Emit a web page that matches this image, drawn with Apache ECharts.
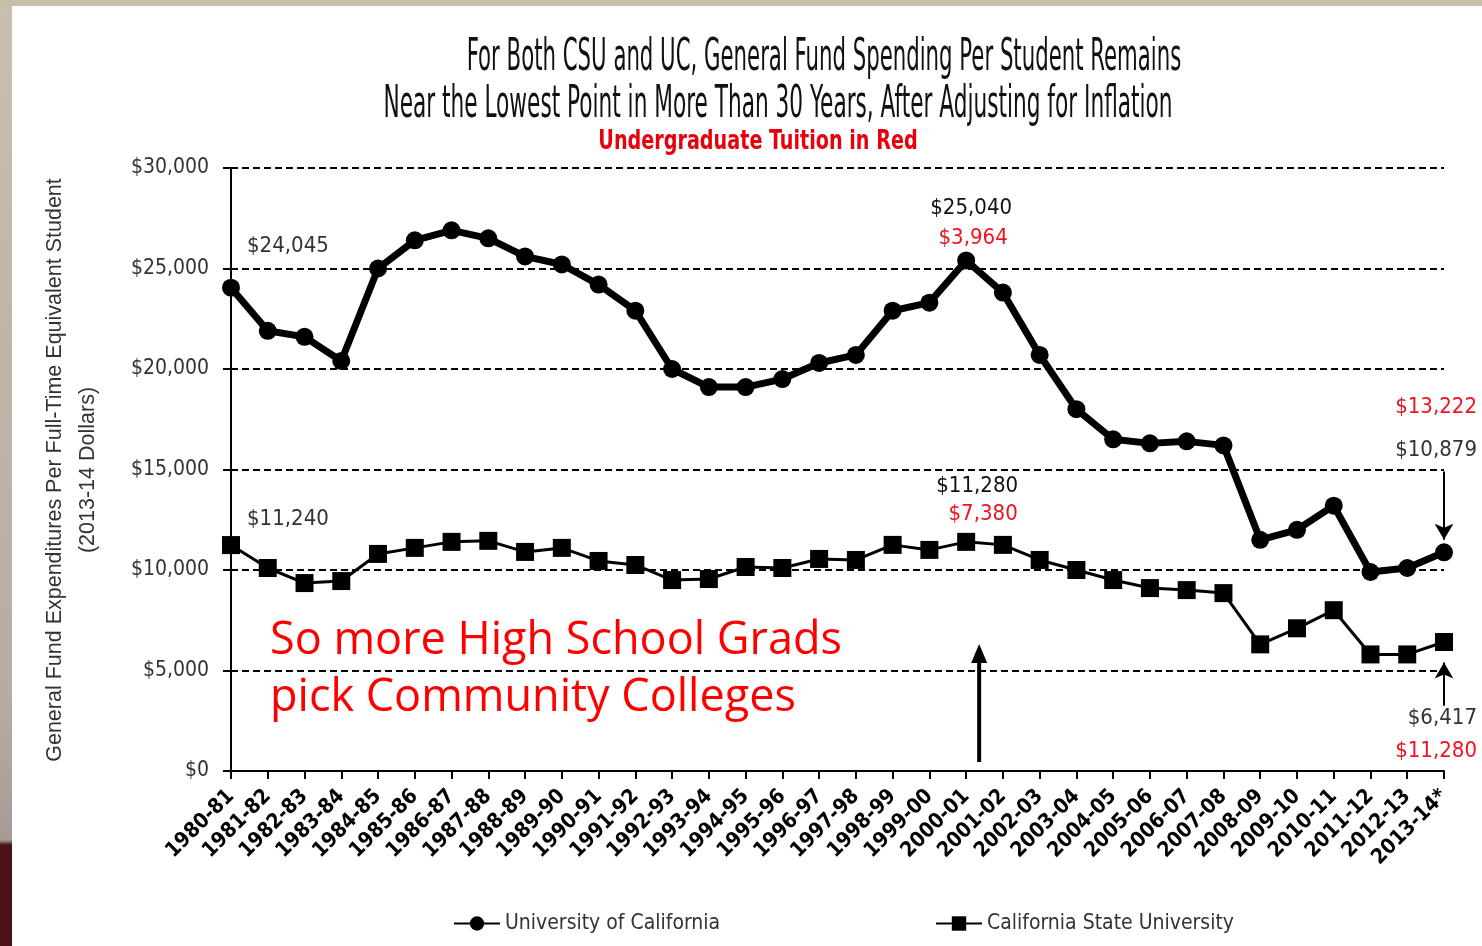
<!DOCTYPE html>
<html>
<head>
<meta charset="utf-8">
<script src="https://cdn.jsdelivr.net/npm/echarts@6/dist/echarts.min.js"></script>
<style>
  html, body { margin: 0; padding: 0; }
  body {
    width: 1482px; height: 946px; overflow: hidden;
    background: linear-gradient(to bottom, #c8bfb0 0px, #b7aca0 700px, #a89a96 840px, #4a1119 845px, #4a1119 946px);
  }
  #chart {
    position: absolute; left: 12px; top: 6px; width: 1470px; height: 940px;
    background: #ffffff;
  }
  #topstrip { position: absolute; left: 0; top: 0; width: 1482px; height: 6px; background: #c9bea9; }
</style>
</head>
<body>
<div id="topstrip"></div>
<div id="chart"></div>
<script>
const years = ["1980-81", "1981-82", "1982-83", "1983-84", "1984-85", "1985-86", "1986-87", "1987-88",
  "1988-89", "1989-90", "1990-91", "1991-92", "1992-93", "1993-94", "1994-95", "1995-96", "1996-97",
  "1997-98", "1998-99", "1999-00", "2000-01", "2001-02", "2002-03", "2003-04", "2004-05", "2005-06",
  "2006-07", "2007-08", "2008-09", "2009-10", "2010-11", "2011-12", "2012-13", "2013-14*"];

const ucSpending = [24045, 21900, 21600, 20400, 25000, 26400, 26900, 26500, 25600, 25200, 24200, 22900,
  20000, 19100, 19100, 19500, 20300, 20700, 22900, 23300, 25400, 23800, 20700, 18000, 16500, 16300,
  16400, 16200, 11500, 12000, 13200, 9900, 10100, 10879];

const csuSpending = [11240, 10100, 9350, 9450, 10800, 11100, 11400, 11450, 10900, 11100, 10450, 10250,
  9500, 9550, 10150, 10100, 10550, 10500, 11250, 11000, 11400, 11250, 10500, 10000, 9500, 9100,
  9000, 8850, 6300, 7100, 8000, 5800, 5800, 6417];

const yTicks = [0, 5000, 10000, 15000, 20000, 25000, 30000];

// callouts: [category, black text, red text]
const ucStartNote = ["1980-81", "$24,045"];
const csuStartNote = ["1980-81", "$11,240"];
const ucPeakNote = ["2000-01", "$25,040", "$3,964"];
const csuPeakNote = ["2000-01", "$11,280", "$7,380"];
const ucEndNote = ["2013-14*", "$10,879", "$13,222"];
const csuEndNote = ["2013-14*", "$6,417", "$11,280"];

const NARROW = '"Liberation Sans Narrow", "DejaVu Sans Condensed", sans-serif';
const ARIAL = '"Liberation Sans", Arial, sans-serif';

const chart = echarts.init(document.getElementById("chart"));

const money = (v) => "$" + v.toLocaleString("en-US");

chart.setOption({
  animation: false,
  grid: { left: 219, right: 38, top: 162, bottom: 175 },
  legend: [
    {
      data: ["University of California"],
      left: 436, top: 902,
      itemWidth: 46, itemHeight: 18,
      textStyle: { fontFamily: NARROW, fontSize: 21, color: "#333" }
    },
    {
      data: ["California State University"],
      left: 918, top: 902,
      itemWidth: 46, itemHeight: 18,
      textStyle: { fontFamily: NARROW, fontSize: 21, color: "#333" }
    }
  ],
  xAxis: {
    type: "category",
    data: years,
    boundaryGap: false,
    axisLine: { lineStyle: { color: "#000", width: 2 } },
    axisTick: { alignWithLabel: true, length: 8, lineStyle: { color: "#000", width: 2 }, interval: 0 },
    axisLabel: {
      interval: 0, rotate: 45, margin: 22,
      fontFamily: NARROW, fontWeight: "bold", fontSize: 21, color: "#000"
    }
  },
  yAxis: {
    type: "value",
    min: yTicks[0], max: yTicks[yTicks.length - 1], interval: yTicks[1] - yTicks[0],
    axisLine: { show: true, lineStyle: { color: "#000", width: 2 } },
    axisTick: { show: true, length: 8, lineStyle: { color: "#000", width: 2 } },
    axisLabel: {
      margin: 22,
      fontFamily: NARROW, fontSize: 21, color: "#333",
      formatter: (v) => money(v)
    },
    splitLine: { lineStyle: { color: "#000", width: 2.2, type: [7, 4] } }
  },
  series: [
    {
      name: "University of California",
      type: "line",
      data: ucSpending,
      symbol: "circle", symbolSize: 18,
      lineStyle: { color: "#000", width: 7 },
      itemStyle: { color: "#000" },
      markLine: {
        silent: true, symbol: ["none", "arrow"], symbolSize: [14, 16],
        lineStyle: { color: "#000", width: 2, type: "solid" },
        label: { show: false },
        data: [[{ coord: ["2013-14*", 14900] }, { coord: ["2013-14*", 11500] }]]
      },
      z: 3
    },
    {
      name: "California State University",
      type: "line",
      data: csuSpending,
      symbol: "rect", symbolSize: 18,
      lineStyle: { color: "#000", width: 3 },
      itemStyle: { color: "#000" },
      markLine: {
        silent: true, symbol: ["none", "arrow"], symbolSize: [14, 16],
        lineStyle: { color: "#000", width: 2, type: "solid" },
        label: { show: false },
        data: [[{ coord: ["2013-14*", 3250] }, { coord: ["2013-14*", 5400] }]]
      },
      z: 3
    }
  ]
});

// titles and notes placed from the axes' own scale
const px = (cat, v) => chart.convertToPixel({ xAxisIndex: 0, yAxisIndex: 0 }, [cat, v]);
const txt = (x, y, text, color, size, opts) => Object.assign({
  type: "text", x: x, y: y, silent: true,
  style: Object.assign({
    text: text, fill: color, fontFamily: NARROW, fontSize: size,
    align: "center", verticalAlign: "middle"
  }, (opts && opts.style) || {})
}, (opts && opts.el) || {});

const g = [];
g.push(txt(812, 52, "For Both CSU and UC, General Fund Spending Per Student Remains", "#111", 45,
  { el: { scaleX: 0.525 } }));
g.push(txt(766, 99, "Near the Lowest Point in More Than 30 Years, After Adjusting for Inflation", "#111", 45,
  { el: { scaleX: 0.535 } }));
g.push(txt(746, 136, "Undergraduate Tuition in Red", "#e8000d", 26,
  { style: { fontWeight: "bold" }, el: { scaleX: 0.82 } }));

// y axis name
g.push(txt(43, 464, "General Fund Expenditures Per Full-Time Equivalent Student", "#333", 21.5,
  { style: { fontFamily: ARIAL }, el: { rotation: Math.PI / 2 } }));
g.push(txt(76, 464, "(2013-14 Dollars)", "#333", 21.5,
  { style: { fontFamily: ARIAL }, el: { rotation: Math.PI / 2 } }));

let p = px(ucStartNote[0], ucSpending[0]);
g.push(txt(p[0] + 16, p[1] - 41, ucStartNote[1], "#333", 22, { style: { align: "left" } }));
p = px(csuStartNote[0], csuSpending[0]);
g.push(txt(p[0] + 16, p[1] - 26, csuStartNote[1], "#333", 22, { style: { align: "left" } }));

p = px(ucPeakNote[0], ucSpending[20]);
g.push(txt(p[0] + 5, p[1] - 52, ucPeakNote[1], "#111", 22));
g.push(txt(p[0] + 7, p[1] - 22, ucPeakNote[2], "#f0141e", 22));
p = px(csuPeakNote[0], csuSpending[20]);
g.push(txt(p[0] + 11, p[1] - 56, csuPeakNote[1], "#111", 22));
g.push(txt(p[0] + 17, p[1] - 28, csuPeakNote[2], "#f0141e", 22));

p = px(ucEndNote[0], ucSpending[33]);
g.push(txt(p[0] + 33, p[1] - 145, ucEndNote[2], "#f0141e", 22, { style: { align: "right" } }));
g.push(txt(p[0] + 33, p[1] - 102, ucEndNote[1], "#333", 22, { style: { align: "right" } }));
p = px(csuEndNote[0], csuSpending[33]);
g.push(txt(p[0] + 33, p[1] + 76, csuEndNote[1], "#333", 22, { style: { align: "right" } }));
g.push(txt(p[0] + 33, p[1] + 109, csuEndNote[2], "#f0141e", 22, { style: { align: "right" } }));

// big arrow under 2000-01
p = px("2000-01", 0);
g.push({
  type: "line", silent: true,
  shape: { x1: p[0] + 13, y1: p[1] - 9, x2: p[0] + 13, y2: p[1] - 112 },
  style: { stroke: "#000", lineWidth: 4 }
});
g.push({
  type: "polygon", silent: true,
  shape: { points: [[p[0] + 13, p[1] - 127], [p[0] + 5, p[1] - 108], [p[0] + 21, p[1] - 108]] },
  style: { fill: "#000" }
});

g.push(txt(258, 635, "So more High School Grads", "#ff0000", 45,
  { style: { align: "left", fontFamily: '"Open Sans", "Noto Sans", sans-serif' } }));
g.push(txt(258, 692, "pick Community Colleges", "#ff0000", 45,
  { style: { align: "left", fontFamily: '"Open Sans", "Noto Sans", sans-serif' } }));

chart.setOption({ graphic: g });
</script>
</body>
</html>
